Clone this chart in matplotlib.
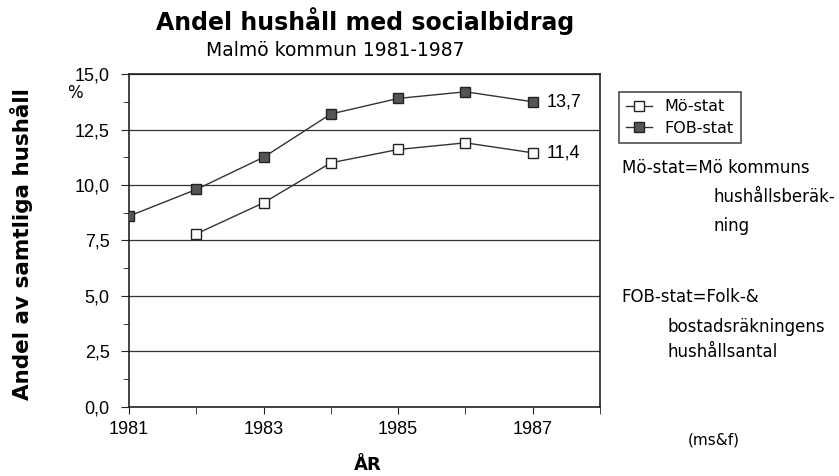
import numpy as np
import matplotlib
matplotlib.use("Agg")
from matplotlib import pyplot as plt
from matplotlib.ticker import MultipleLocator, FuncFormatter

# data
years_fob = [1981, 1982, 1983, 1984, 1985, 1986, 1987]
fob_stat = [8.6, 9.8, 11.25, 13.2, 13.9, 14.2, 13.75]
years_mo = [1982, 1983, 1984, 1985, 1986, 1987]
mo_stat = [7.8, 9.2, 11.0, 11.6, 11.9, 11.45]
end_labels = ["13,7", "11,4"]
xtick_years = [1981, 1983, 1985, 1987]

plt.rcParams['font.family'] = ['DejaVu Sans']

fig = plt.figure(figsize=(8.39, 4.76), dpi=100)
ax = fig.add_axes([0.1538, 0.145, 0.5613, 0.6995])

ax.plot(years_fob, fob_stat, color='#333333', lw=1.0, marker='s', ms=7,
        mfc='#555555', mec='#222222', mew=1.0, label='FOB-stat', zorder=3)
ax.plot(years_mo, mo_stat, color='#333333', lw=1.0, marker='s', ms=7,
        mfc='white', mec='#222222', mew=1.0, label='Mö-stat', zorder=3)

ax.set_xlim(1981, 1988)
ax.set_ylim(0, 15)
ax.yaxis.set_major_locator(MultipleLocator(2.5))
ax.yaxis.set_minor_locator(MultipleLocator(1.25))
ax.yaxis.set_major_formatter(FuncFormatter(lambda v, p: f"{v:.1f}".replace('.', ',')))
ax.set_xticks(xtick_years)
ax.set_xticks(range(1981, 1989), minor=True)
ax.set_xticklabels([str(y) for y in xtick_years], family='Liberation Sans', fontsize=13)
for lab in ax.get_yticklabels():
    lab.set_family('Liberation Sans')
    lab.set_fontsize(13)
ax.tick_params(axis='both', which='both', color='#222222')
ax.tick_params(axis='y', which='major', length=6, direction='out', pad=8)
ax.tick_params(axis='y', which='minor', length=4, direction='out')
ax.tick_params(axis='x', which='both', length=5, direction='out', pad=5)
ax.grid(axis='y', which='major', color='#333333', lw=0.9)
for s in ax.spines.values():
    s.set_color('#222222')
    s.set_linewidth(1.2)

# end value labels
ax.text(years_fob[-1] + 0.2, fob_stat[-1], end_labels[0], fontsize=13,
        family='Liberation Sans', va='center', ha='left')
ax.text(years_mo[-1] + 0.2, mo_stat[-1], end_labels[1], fontsize=13,
        family='Liberation Sans', va='center', ha='left')

# legend (Mö-stat first)
h, l = ax.get_legend_handles_labels()
leg = fig.legend(h[::-1], l[::-1], loc='upper left', bbox_to_anchor=(0.728, 0.823),
                 frameon=True, fancybox=False, edgecolor='#222222', fontsize=11.5,
                 handlelength=1.6, borderpad=0.45, labelspacing=0.4)
leg.get_frame().set_linewidth(1.2)

fig.text(0.435, 0.955, "Andel hushåll med socialbidrag", ha='center', va='center',
         fontsize=17, fontweight='bold')
fig.text(0.4, 0.893, "Malmö kommun 1981-1987", ha='center', va='center', fontsize=13.5)
fig.text(0.438, 0.023, "ÅR", ha='center', va='center', fontsize=13, fontweight='bold')
fig.text(0.026, 0.487, "Andel av samtliga hushåll", rotation=90, ha='center', va='center',
         fontsize=15.5, fontweight='bold')
fig.text(0.089, 0.805, "%", ha='center', va='center', fontsize=12)

fig.text(0.741, 0.647, "Mö-stat=Mö kommuns", ha='left', va='center', fontsize=12)
fig.text(0.996, 0.586, "hushållsberäk-", ha='right', va='center', fontsize=12)
fig.text(0.85, 0.525, "ning", ha='left', va='center', fontsize=12)
fig.text(0.741, 0.376, "FOB-stat=Folk-&", ha='left', va='center', fontsize=12)
fig.text(0.796, 0.313, "bostadsräkningens", ha='left', va='center', fontsize=12)
fig.text(0.796, 0.26, "hushållsantal", ha='left', va='center', fontsize=12)
fig.text(0.82, 0.075, "(ms&f)", ha='left', va='center', fontsize=11)

fig.savefig("out.png", dpi=100)
